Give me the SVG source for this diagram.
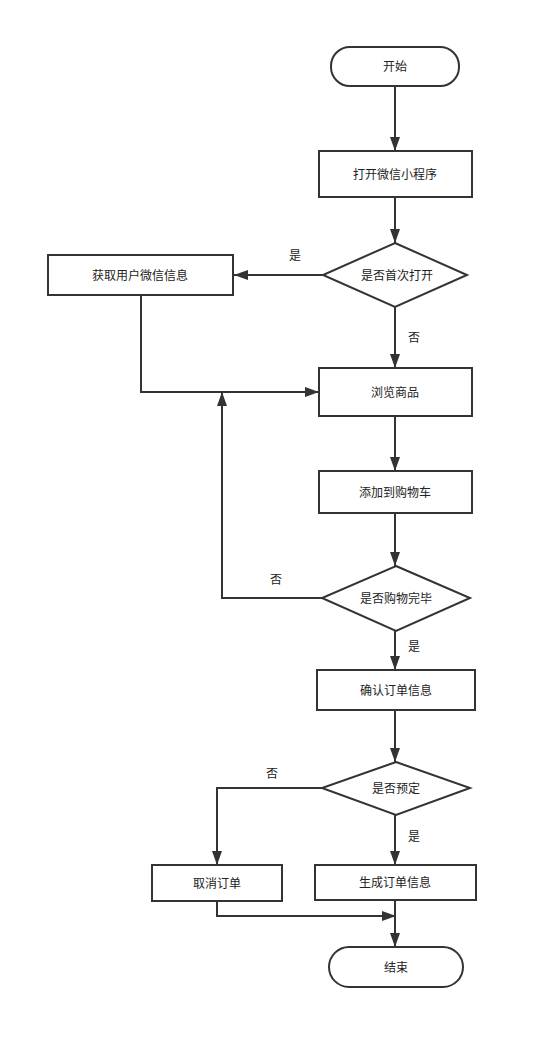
<svg xmlns="http://www.w3.org/2000/svg" width="556" height="1049" viewBox="0 0 556 1049">
<defs>
<marker id="arr" viewBox="0 0 14 10" refX="14" refY="5" markerWidth="14" markerHeight="10" markerUnits="userSpaceOnUse" orient="auto">
<path d="M0,0 L14,5 L0,10 z" fill="#333"/>
</marker>
<style>
.n{fill:#fff;stroke:#333;stroke-width:2}
.c{fill:none;stroke:#333;stroke-width:2;marker-end:url(#arr)}
text{font-family:"Noto Sans CJK SC","Noto Sans",sans-serif;font-size:12px;fill:#222;text-anchor:middle;dominant-baseline:central}
</style>
</defs>
<rect width="556" height="1049" fill="#fff"/>
<g id="connectors">
<path class="c" d="M395,86 V151"/>
<path class="c" d="M395,197 V243"/>
<path class="c" d="M323,275 H234"/>
<path class="c" d="M395,307 V368"/>
<path class="c" d="M141,295 V392 H319"/>
<path class="c" d="M395,416 V471"/>
<path class="c" d="M395,513 V566"/>
<path class="c" d="M322,598 H222 V392"/>
<path class="c" d="M395,631 V670"/>
<path class="c" d="M395,710 V762"/>
<path class="c" d="M322,788 H217 V865"/>
<path class="c" d="M395,815 V865"/>
<path class="c" d="M217,901 V916 H396"/>
<path class="c" d="M395,900 V947"/>
<text x="295" y="254">是</text>
<text x="414" y="336">否</text>
<text x="276" y="578">否</text>
<text x="414" y="645">是</text>
<text x="272" y="772">否</text>
<text x="414" y="835">是</text>
</g>
<g id="start"><rect class="n" x="331" y="47" width="128" height="39" rx="19" ry="19"/><text x="395" y="65">开始</text></g>
<g id="open"><rect class="n" x="319" y="151" width="153" height="46"/><text x="395" y="173">打开微信小程序</text></g>
<g id="first"><polygon class="n" points="395,243 467,275 395,307 323,275"/><text x="397" y="274">是否首次打开</text></g>
<g id="getinfo"><rect class="n" x="48" y="255" width="185" height="40"/><text x="140" y="274">获取用户微信信息</text></g>
<g id="browse"><rect class="n" x="319" y="368" width="153" height="48"/><text x="395" y="391">浏览商品</text></g>
<g id="cart"><rect class="n" x="319" y="471" width="153" height="42"/><text x="395" y="491">添加到购物车</text></g>
<g id="done"><polygon class="n" points="396,566 470,598 396,631 322,598"/><text x="396" y="597">是否购物完毕</text></g>
<g id="confirm"><rect class="n" x="317" y="670" width="158" height="40"/><text x="396" y="689">确认订单信息</text></g>
<g id="reserve"><polygon class="n" points="396,762 470,788 396,815 322,788"/><text x="396" y="787">是否预定</text></g>
<g id="cancel"><rect class="n" x="152" y="865" width="130" height="36"/><text x="217" y="882">取消订单</text></g>
<g id="gen"><rect class="n" x="315" y="865" width="161" height="35"/><text x="395" y="881">生成订单信息</text></g>
<g id="end"><rect class="n" x="329" y="947" width="134" height="40" rx="20" ry="20"/><text x="396" y="966">结束</text></g>
</svg>
